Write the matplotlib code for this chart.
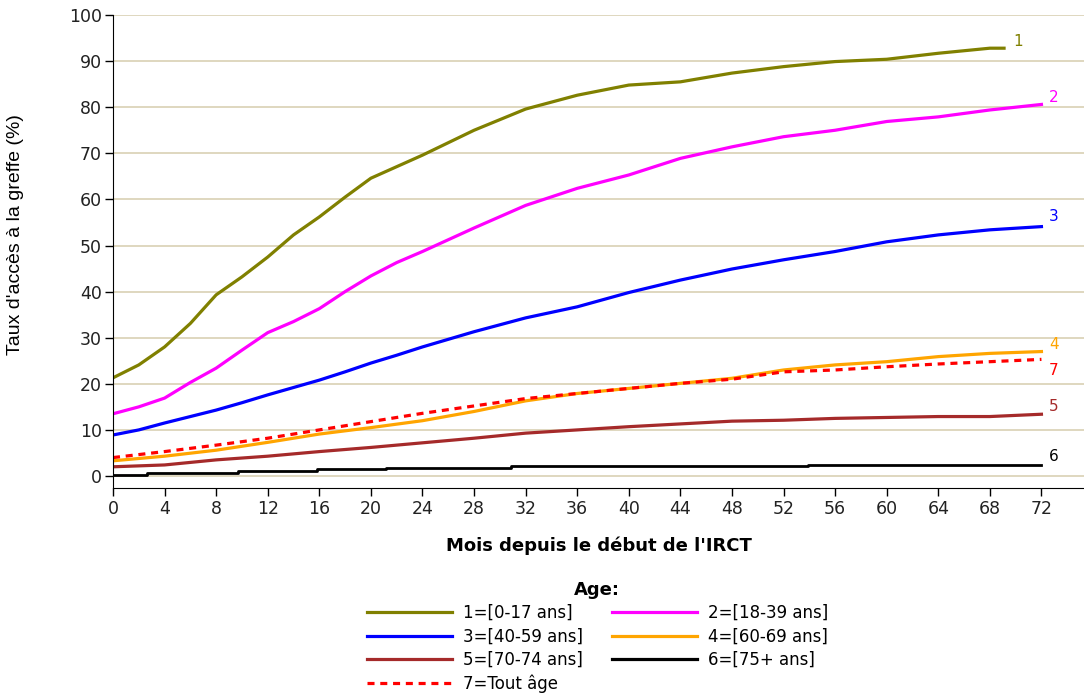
import matplotlib
matplotlib.use("Agg")
import matplotlib.pyplot as plt
from matplotlib.lines import Line2D

plt.rcParams['font.family'] = ['DejaVu Sans']

# months for the fast-rising curves (read every 2 months up to 24, then every 4)
months_fine = [0, 2, 4, 6, 8, 10, 12, 14, 16, 18, 20, 22, 24, 28, 32, 36, 40, 44, 48, 52, 56, 60, 64, 68, 72]
months = [0, 4, 8, 12, 16, 20, 24, 28, 32, 36, 40, 44, 48, 52, 56, 60, 64, 68, 72]

age_0_17_months = [0, 2, 4, 6, 8, 10, 12, 14, 16, 18, 20, 22, 24, 28, 32, 36, 40, 44, 48, 52, 56, 60, 64, 68, 69.1]
age_0_17 = [21.3, 24.1, 28.0, 33.1, 39.3, 43.2, 47.5, 52.3, 56.2, 60.5, 64.6, 67.1, 69.6,
            75.0, 79.6, 82.6, 84.8, 85.5, 87.4, 88.8, 89.9, 90.4, 91.7, 92.8, 92.8]
age_18_39 = [13.5, 15.0, 16.9, 20.3, 23.4, 27.3, 31.1, 33.5, 36.3, 40.0, 43.4, 46.3, 48.7,
             53.8, 58.7, 62.4, 65.3, 68.9, 71.4, 73.6, 75.0, 76.9, 77.9, 79.4, 80.6]
age_40_59 = [8.9, 10.0, 11.5, 12.9, 14.3, 15.9, 17.6, 19.2, 20.8, 22.6, 24.5, 26.2, 28.0,
             31.3, 34.3, 36.7, 39.8, 42.5, 44.9, 46.9, 48.7, 50.8, 52.3, 53.4, 54.1]
age_60_69 = [3.3, 4.3, 5.6, 7.3, 9.1, 10.5, 12.0, 14.0, 16.3, 17.9, 19.0, 20.1, 21.2, 23.0, 24.1, 24.8, 25.9, 26.6, 27.0]
age_70_74 = [2.0, 2.4, 3.5, 4.3, 5.3, 6.2, 7.2, 8.2, 9.3, 10.0, 10.7, 11.3, 11.9, 12.1, 12.5, 12.7, 12.9, 12.9, 13.4]
tout_age = [4.0, 5.3, 6.7, 8.2, 10.0, 11.8, 13.6, 15.2, 16.8, 17.9, 19.0, 20.1, 21.0, 22.6, 23.0, 23.7, 24.3, 24.8, 25.3]

age_75_months = [0, 2.6, 9.7, 15.8, 21.2, 30.9, 53.9, 72]
age_75_plus = [0.3, 0.7, 1.1, 1.5, 1.8, 2.1, 2.4, 2.4]

labels = ["1=[0-17 ans]", "2=[18-39 ans]", "3=[40-59 ans]", "4=[60-69 ans]",
          "5=[70-74 ans]", "6=[75+ ans]", "7=Tout âge"]
end_labels = ["1", "2", "3", "4", "5", "6", "7"]
colors = ["#808000", "#ff00ff", "#0000ff", "#ffa500", "#a52a2a", "#000000", "#ff0000"]

fig = plt.figure(figsize=(10.84, 6.99), dpi=100)
ax = fig.add_axes([113/1084, 1-488/699, 1-113/1084, (488-15)/699])

lw = 2.3
dash = (0, (2.2, 1.8))
ax.plot(age_0_17_months, age_0_17, color=colors[0], lw=lw)
ax.plot(months_fine, age_18_39, color=colors[1], lw=lw)
ax.plot(months_fine, age_40_59, color=colors[2], lw=lw)
ax.plot(months, age_60_69, color=colors[3], lw=lw)
ax.plot(months, age_70_74, color=colors[4], lw=lw)
ax.plot(age_75_months, age_75_plus, color=colors[5], lw=2.0, drawstyle='steps-post')
ax.plot(months, tout_age, color=colors[6], lw=lw, ls=dash)

# end labels
end_pos = [(69.8, 94.3), (72.6, 82.0), (72.6, 56.2), (72.6, 28.6),
           (72.6, 15.0), (72.6, 4.2), (72.6, 22.8)]
for (xx, yy), t, c in zip(end_pos, end_labels, colors):
    ax.text(xx, yy, t, color=c, fontsize=11, ha='left', va='center')

ax.set_xlim(0, 75.3)
ax.set_ylim(-2.6, 100)
ax.set_xticks(range(0, 73, 4))
ax.set_yticks(range(0, 101, 10))
ax.yaxis.grid(True, color='#d9d1b4', lw=1.2)
ax.set_axisbelow(True)
for s in ['top', 'right']:
    ax.spines[s].set_visible(False)
ax.tick_params(direction='out', length=6, width=1, labelsize=12.5, colors='black', labelcolor='#222222')
ax.tick_params(axis='x', pad=3)
ax.tick_params(axis='y', pad=2)

ax.set_xlabel("Mois depuis le début de l'IRCT", fontsize=13, fontweight='bold', labelpad=13)
ax.set_ylabel("Taux d'accès à la greffe (%)", fontsize=14,
              family=['Liberation Sans', 'DejaVu Sans'])
ax.yaxis.set_label_coords(-(113 - 24) / (1084 - 113), (488 - 235) / (488 - 15))

handles = [Line2D([], [], color=colors[i], lw=2.3, ls='-' if i != 6 else dash) for i in range(7)]
order = [0, 2, 4, 6, 1, 3, 5]
leg = fig.legend([handles[i] for i in order], [labels[i] for i in order],
                 loc='upper center', bbox_to_anchor=(0.551, 1-569/699), ncol=2,
                 frameon=False, fontsize=12, handlelength=5.1, columnspacing=1.75,
                 handletextpad=0.65, labelspacing=0.33, title="Age:", borderpad=0.2,
                 title_fontproperties={'weight': 'bold', 'size': 13})

fig.savefig("out.png", dpi=100)
